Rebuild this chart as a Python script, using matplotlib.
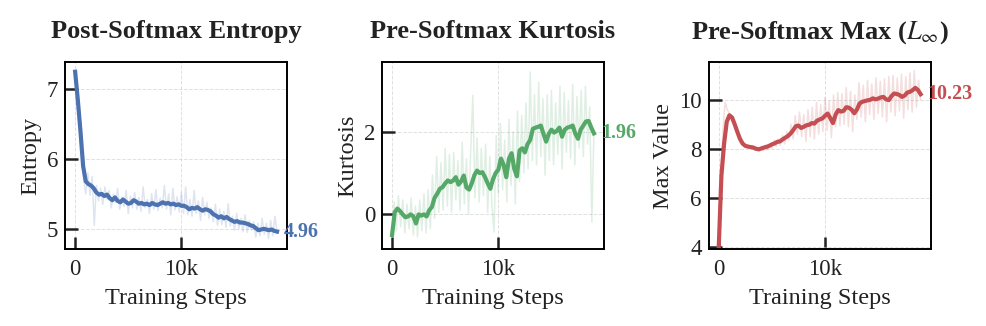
import numpy as np
import matplotlib
matplotlib.use("Agg")
import matplotlib.pyplot as plt

# training steps at which values were logged
raw_steps = np.arange(0, 19001, 200)
smooth_steps = np.arange(0, 19001, 250)

entropy_raw = [
    7.25, 6.95, 6.55, 6.10, 5.70, 5.50, 5.80, 5.48, 5.75, 5.05,
    5.62, 5.40, 5.58, 5.35, 5.60, 5.42, 5.55, 5.30, 5.50, 5.38,
    5.58, 5.28, 5.45, 5.32, 5.55, 5.22, 5.47, 5.30, 5.52, 5.28,
    5.45, 5.25, 5.60, 5.30, 5.42, 5.22, 5.50, 5.28, 5.56, 5.26,
    5.44, 5.30, 5.62, 5.28, 5.50, 5.20, 5.58, 5.27, 5.46, 5.24,
    5.52, 5.22, 5.60, 5.20, 5.42, 5.18, 5.55, 5.22, 5.40, 5.12,
    5.45, 5.20, 5.38, 5.15, 5.30, 5.10, 5.35, 5.05, 5.28, 5.06,
    5.25, 5.02, 5.36, 5.04, 5.18, 4.98, 5.22, 5.00, 5.15, 4.96,
    5.20, 4.95, 5.12, 4.98, 5.10, 4.88, 5.08, 4.90, 5.15, 4.92,
    5.08, 4.86, 5.12, 4.90, 5.18, 4.94,
]
entropy_smooth = [
    7.25, 6.85, 6.40, 5.90, 5.68, 5.64, 5.62, 5.58, 5.52, 5.49,
    5.50, 5.47, 5.49, 5.44, 5.41, 5.45, 5.40, 5.38, 5.42, 5.39,
    5.36, 5.37, 5.41, 5.39, 5.36, 5.37, 5.35, 5.36, 5.34, 5.37,
    5.35, 5.34, 5.36, 5.38, 5.36, 5.37, 5.35, 5.36, 5.34, 5.35,
    5.33, 5.33, 5.31, 5.28, 5.30, 5.29, 5.31, 5.28, 5.26, 5.28,
    5.27, 5.25, 5.21, 5.19, 5.16, 5.18, 5.15, 5.17, 5.14, 5.12,
    5.10, 5.11, 5.09, 5.09, 5.08, 5.07, 5.05, 5.04, 5.01, 4.98,
    4.99, 5.00, 4.99, 4.98, 4.99, 4.97, 4.96,
]

kurtosis_raw = [
    -0.50, 0.30, -0.40, 0.45, -0.30, 0.35, -0.45, 0.25, -0.35, 0.40,
    -0.50, 0.20, -0.55, 0.35, -0.40, 0.50, -0.45, 0.60, -0.35, 0.95,
    -0.10, 1.40, 0.05, 1.25, 0.10, 1.60, 0.20, 1.45, 0.05, 1.50,
    0.35, 1.30, 0.10, 1.75, 0.25, 1.35, 0.00, 1.55, 2.88, 0.40,
    1.85, 0.30, 1.60, 0.45, 1.70, 0.05, 1.40, 0.20, -0.43, 1.90,
    0.50, 2.20, 0.60, 1.80, 0.30, 2.30, 0.70, 2.00, 0.25, 2.50,
    0.80, 2.40, 1.00, 2.70, 1.10, 3.45, 1.30, 2.90, 1.20, 3.20,
    1.40, 2.80, 0.95, 2.90, 1.30, 3.00, 1.20, 2.70, 1.45, 3.10,
    1.10, 2.95, 1.50, 2.75, 1.35, 3.15, 1.20, 2.85, 1.60, 3.00,
    1.40, 3.10, 1.70, 2.60, -0.19, 2.00,
]
kurtosis_smooth = [
    -0.50, 0.05, 0.14, 0.08, 0.00, -0.07, -0.05, 0.00, -0.05, -0.22,
    0.00, -0.03, 0.00, -0.05, 0.10, 0.18, 0.40, 0.50, 0.62, 0.66,
    0.75, 0.82, 0.78, 0.82, 0.90, 0.72, 0.80, 0.94, 0.65, 0.60,
    0.75, 0.95, 1.06, 1.00, 1.02, 0.90, 0.75, 0.62, 0.85, 1.00,
    1.08, 1.35, 1.20, 0.90, 1.35, 1.48, 1.10, 0.92, 1.55, 1.60,
    1.50, 1.70, 1.80, 2.07, 2.10, 2.12, 2.15, 1.95, 1.76, 1.95,
    2.05, 1.98, 2.02, 2.10, 1.88, 2.05, 2.10, 2.12, 2.15, 1.95,
    1.83, 2.05, 2.15, 2.25, 2.26, 2.10, 1.96,
]

maxval_raw = [
    4.00, 6.40, 8.80, 9.90, 9.60, 9.45, 9.20, 9.05, 8.80, 8.60,
    8.45, 8.25, 8.15, 8.05, 8.12, 8.00, 8.10, 7.95, 8.05, 7.88,
    8.10, 7.92, 8.15, 7.95, 8.20, 8.02, 8.35, 8.10, 8.40, 8.15,
    8.55, 8.20, 8.70, 8.35, 9.00, 8.40, 9.35, 8.60, 9.50, 8.50,
    9.40, 8.30, 9.60, 8.50, 9.70, 8.40, 9.90, 8.60, 9.80, 8.70,
    10.10, 8.75, 9.95, 8.45, 10.20, 8.90, 10.30, 8.95, 10.25, 9.00,
    10.50, 8.90, 10.35, 8.70, 10.20, 9.20, 10.70, 9.30, 10.60, 9.10,
    10.80, 9.40, 10.65, 9.20, 10.90, 9.45, 10.75, 9.30, 10.85, 9.10,
    10.95, 9.50, 11.00, 9.35, 10.90, 9.55, 11.05, 9.25, 10.95, 9.60,
    11.10, 9.50, 11.20, 9.70, 10.80, 10.00,
]
maxval_smooth = [
    4.00, 6.90, 8.20, 9.10, 9.37, 9.28, 9.00, 8.69, 8.40, 8.21,
    8.12, 8.09, 8.07, 8.05, 8.00, 7.98, 8.01, 8.05, 8.08, 8.12,
    8.18, 8.22, 8.28, 8.30, 8.38, 8.45, 8.52, 8.62, 8.76, 8.92,
    8.95, 8.85, 8.90, 8.96, 8.98, 9.05, 9.03, 9.15, 9.20, 9.24,
    9.35, 9.44, 9.25, 9.05, 9.40, 9.58, 9.52, 9.55, 9.70, 9.68,
    9.60, 9.45, 9.60, 9.85, 9.92, 9.95, 9.98, 10.00, 10.06, 10.02,
    10.05, 10.10, 10.12, 10.02, 9.99, 10.15, 10.26, 10.24, 10.20, 10.12,
    10.18, 10.30, 10.33, 10.40, 10.49, 10.40, 10.23,
]

titles = ["Post-Softmax Entropy", "Pre-Softmax Kurtosis", r"Pre-Softmax Max ($L_\infty$)"]
ylabels = ["Entropy", "Kurtosis", "Max Value"]
yticks = [[5, 6, 7], [0, 2], [4, 6, 8, 10]]
ylims = [(4.71, 7.39), (-0.84, 3.69), (3.9, 11.55)]
colors = ["#4C72B0", "#55A868", "#C44E52"]
xtick_vals = [0, 10000]
xtick_labels = ["0", "10k"]

plt.rcParams["font.family"] = ["Liberation Serif", "DejaVu Serif"]
plt.rcParams["mathtext.fontset"] = "stix"
text_color = "#222222"

fig = plt.figure(figsize=(9.87, 3.26), dpi=100)
lefts = [0.0659, 0.387, 0.718]

series = [
    (entropy_raw, entropy_smooth),
    (kurtosis_raw, kurtosis_smooth),
    (maxval_raw, maxval_smooth),
]

for i, (raw, smooth) in enumerate(series):
    ax = fig.add_axes([lefts[i], 0.236, 0.225, 0.574])
    c = colors[i]
    ax.plot(raw_steps, raw, color=c, alpha=0.18, linewidth=1.1)
    ax.plot(smooth_steps, smooth, color=c, linewidth=3.0)

    ax.annotate(f"{smooth[-1]:.2f}", (smooth_steps[-1], smooth[-1]),
                xytext=(5, 0), textcoords="offset points",
                ha="left", va="center", fontsize=14.5, fontweight="bold",
                color=c, annotation_clip=False)

    ax.set_xlim(-950, 19950)
    ax.set_ylim(*ylims[i])
    ax.set_xticks(xtick_vals)
    ax.set_xticklabels(xtick_labels)
    ax.set_yticks(yticks[i])

    ax.set_title(titles[i], fontsize=19, fontweight="bold", pad=17, color=text_color)
    ax.set_xlabel("Training Steps", fontsize=17.5, labelpad=6, color=text_color)
    ax.set_ylabel(ylabels[i], fontsize=17.5, labelpad=4, color=text_color)

    ax.tick_params(direction="in", length=9, width=1.8, labelsize=16.5,
                   colors=text_color)
    ax.tick_params(axis="x", pad=7)
    ax.tick_params(axis="y", pad=5)
    for sp in ax.spines.values():
        sp.set_linewidth(1.4)
        sp.set_color("black")
    ax.grid(True, linestyle="--", linewidth=0.7, color="#cccccc", alpha=0.6)
    ax.set_axisbelow(True)

plt.savefig("out.png", dpi=100)
